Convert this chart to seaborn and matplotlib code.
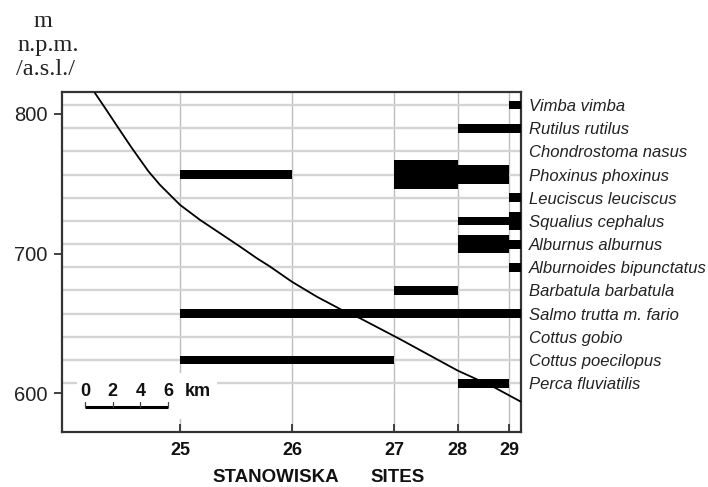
import matplotlib
matplotlib.use("Agg")
import matplotlib.pyplot as plt
from matplotlib.patches import Rectangle
import seaborn as sns

# ---------------- data ----------------
species = ["Vimba vimba", "Rutilus rutilus", "Chondrostoma nasus", "Phoxinus phoxinus",
           "Leuciscus leuciscus", "Squalius cephalus", "Alburnus alburnus",
           "Alburnoides bipunctatus", "Barbatula barbatula", "Salmo trutta m. fario",
           "Cottus gobio", "Cottus poecilopus", "Perca fluviatilis"]

sites = ["25", "26", "27", "28", "29"]
site_km = [0.0, 8.13, 15.50, 20.08, 23.79]     # distance along river from site 25
upstream_km = -8.55                            # left edge of the profile
reach_end_km = 24.63                           # right edge of the profile

# occurrence segments: species, from site, to site, abundance class
bar_species = ["Vimba vimba", "Rutilus rutilus", "Phoxinus phoxinus", "Phoxinus phoxinus",
               "Phoxinus phoxinus", "Leuciscus leuciscus", "Squalius cephalus",
               "Squalius cephalus", "Alburnus alburnus", "Alburnus alburnus",
               "Alburnoides bipunctatus", "Barbatula barbatula", "Salmo trutta m. fario",
               "Cottus poecilopus", "Perca fluviatilis"]
bar_from = ["29", "28", "25", "27", "28", "29", "28", "29", "28", "29", "29", "27", "25", "25", "28"]
bar_to = ["end", "end", "26", "28", "29", "end", "29", "end", "29", "end", "end", "28", "end", "27", "29"]
bar_size = ["thin", "thin", "thin", "thick", "medium", "thin", "thin", "medium", "medium", "thin",
            "thin", "thin", "thin", "thin", "thin"]

# elevation profile of the river (km, m a.s.l.)
profile_km = [-6.15, -5.42, -4.46, -3.49, -2.29, -1.45, 0.0, 1.45, 2.89, 4.34, 5.55, 6.51,
              8.08, 9.88, 11.69, 13.02, 15.91, 20.08, 22.63, 24.63]
profile_elev = [815.0, 804.3, 790.0, 775.7, 759.0, 749.2, 734.9, 724.1, 714.6, 705.0, 696.7,
                690.7, 679.9, 669.2, 659.7, 653.7, 638.7, 616.2, 604.7, 594.0]

elev_ticks = [600, 700, 800]
scale_km = [0, 2, 4, 6]

# ---------------- style ----------------
sns.set_theme(style="white")
plt.rcParams["font.family"] = ["Liberation Sans", "DejaVu Sans"]

size_height = {"thin": 0.38, "medium": 0.80, "thick": 1.27}
pos = dict(zip(sites, site_km))
pos["end"] = reach_end_km

fig = plt.figure(figsize=(7.08, 4.87), dpi=100)
ax = fig.add_axes([0.0872, 0.1136, 0.6483, 0.6969])
ax.set_xlim(upstream_km, reach_end_km)
ax.set_ylim(14.09, -0.55)

# bars (species rows)
for sp, f, t, s in zip(bar_species, bar_from, bar_to, bar_size):
    ax.barh(y=species.index(sp), width=pos[t] - pos[f], left=pos[f],
            height=size_height[s], color="black", zorder=3, linewidth=0)

ax.set_axisbelow(True)
ax.xaxis.grid(True, color="#bdbdbd", lw=1.0)
ax.yaxis.grid(True, color="#d4d4d4", lw=1.7)

ax.set_xticks(site_km)
ax.set_xticklabels(sites, fontweight="bold", fontsize=13, color="#111111")
ax.tick_params(axis="x", bottom=True, direction="in", length=6, width=1.3,
               color="#333333", pad=7.5)

# elevation axis
ax_e = ax.twinx()
ax.yaxis.tick_right()
ax.yaxis.set_label_position("right")
ax.set_yticks(range(len(species)))
ax.set_yticklabels(species, style="italic", fontsize=12, color="#222222")
ax.tick_params(axis="y", length=0, pad=6)

sns.lineplot(x=profile_km, y=profile_elev, ax=ax_e, color="black", lw=1.3, sort=False)
ax_e.yaxis.tick_left()
ax_e.set_ylim(572.5, 815.5)
ax_e.set_xlim(upstream_km, reach_end_km)
ax_e.set_yticks(elev_ticks)
ax_e.set_yticklabels([str(v) for v in elev_ticks], fontsize=14.5, color="#222222")
ax_e.tick_params(axis="y", left=True, direction="out", length=6, width=1.3,
                 color="#333333", pad=4.5)
ax_e.grid(False)
ax_e.set_xlabel("")
ax_e.set_ylabel("")
for sp_ in ax_e.spines.values():
    sp_.set_visible(False)
for sp_ in ax.spines.values():
    sp_.set_visible(True)
    sp_.set_color("#333333")
    sp_.set_linewidth(1.6)

# scale bar
x0 = -6.87
ybar = 590.4
ax_e.add_patch(Rectangle((-7.45, 581.5), 10.13, 33.0, facecolor="white",
                         edgecolor="none", zorder=1))
ax_e.plot([x0, x0 + scale_km[-1]], [ybar, ybar], color="black", lw=2.2,
          solid_capstyle="butt", zorder=3)
for k in scale_km:
    ax_e.plot([x0 + k, x0 + k], [ybar, ybar + 3.3], color="#444444", lw=0.9, zorder=3)
    ax_e.text(x0 + k, 601.1, str(k), ha="center", va="center", fontsize=13,
              fontweight="bold", color="#111111", zorder=4)
ax_e.text(x0 + scale_km[-1] + 1.23, 601.1, "km", ha="left", va="center", fontsize=13,
          fontweight="bold", color="#111111", zorder=4)

# unit label (top-left)
serif = ["Liberation Serif", "DejaVu Serif"]
fig.text(43.3 / 708, 1 - 27 / 487, "m", ha="center", va="baseline", fontsize=17.5,
         family=serif, color="#222222")
fig.text(48 / 708, 1 - 51 / 487, "n.p.m.", ha="center", va="baseline", fontsize=17.5,
         family=serif, color="#222222")
fig.text(45.3 / 708, 1 - 75 / 487, "/a.s.l./", ha="center", va="baseline", fontsize=17.5,
         family=serif, color="#222222")

# x-axis title
fig.text(276 / 708, 0.002, "STANOWISKA", ha="center", va="bottom", fontsize=13.5,
         fontweight="bold", color="#111111")
fig.text(397.5 / 708, 0.002, "SITES", ha="center", va="bottom", fontsize=13.5,
         fontweight="bold", color="#111111")

fig.savefig("out.png", dpi=100)
